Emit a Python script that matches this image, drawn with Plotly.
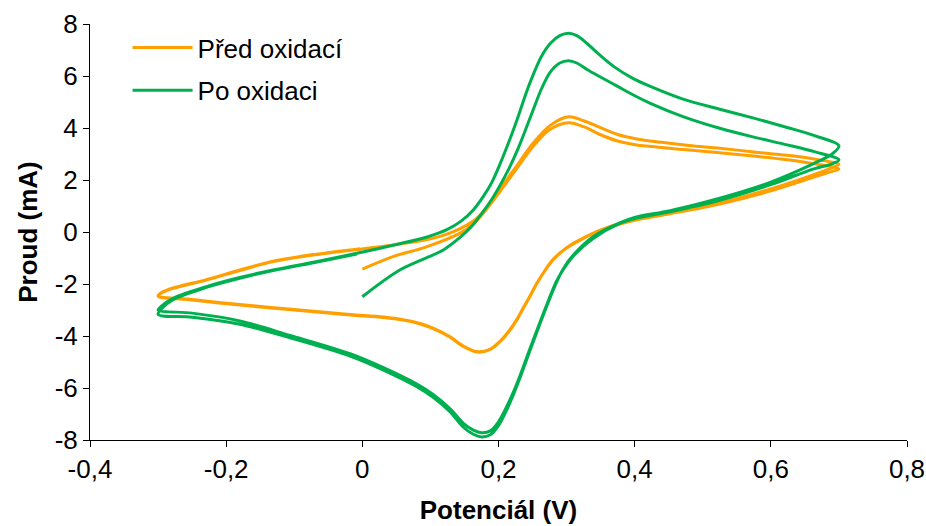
import plotly.graph_objects as go

# ---- data ----
# Před oxidací: forward 0 -> 0.7, reverse -> -0.3, forward -> 0.7, reverse -> -0.3, forward -> 0
pred_x = [0.000, 0.045, 0.094, 0.143, 0.163, 0.180, 0.202, 0.227, 0.251, 0.276, 0.303, 0.325, 0.349, 0.375, 0.403, 0.440, 0.480, 0.525, 0.575, 0.624, 0.665, 0.700,
          0.690, 0.662, 0.600, 0.525, 0.452, 0.400, 0.354, 0.320, 0.300, 0.280, 0.268, 0.256, 0.246, 0.236, 0.227, 0.217, 0.207, 0.188, 0.168, 0.148, 0.129, 0.104, 0.085, 0.060, 0.031, -0.018, -0.100, -0.180, -0.250, -0.300,
          -0.295, -0.278, -0.229, -0.180, -0.131, -0.070, -0.003, 0.050, 0.094, 0.120, 0.143, 0.163, 0.172, 0.180, 0.202, 0.227, 0.251, 0.276, 0.303, 0.325, 0.349, 0.375, 0.403, 0.440, 0.480, 0.525, 0.575, 0.624, 0.665, 0.700,
          0.690, 0.662, 0.600, 0.525, 0.452, 0.400, 0.354, 0.320, 0.300, 0.280, 0.268, 0.256, 0.246, 0.236, 0.227, 0.217, 0.207, 0.188, 0.168, 0.148, 0.129, 0.104, 0.085, 0.060, 0.031, -0.018, -0.100, -0.180, -0.250, -0.300,
          -0.295, -0.278, -0.229, -0.180, -0.131, -0.070, -0.003]
pred_y = [-1.43, -0.95, -0.57, -0.05, 0.30, 0.80, 1.55, 2.45, 3.30, 3.95, 4.20, 4.05, 3.75, 3.50, 3.35, 3.25, 3.15, 3.05, 2.92, 2.78, 2.62, 2.42,
          2.33, 2.10, 1.58, 1.08, 0.70, 0.45, 0.10, -0.31, -0.62, -1.08, -1.50, -2.00, -2.49, -2.95, -3.38, -3.77, -4.09, -4.52, -4.62, -4.40, -4.05, -3.72, -3.54, -3.39, -3.29, -3.19, -3.00, -2.81, -2.62, -2.47,
          -2.35, -2.17, -1.85, -1.48, -1.14, -0.88, -0.66, -0.48, -0.30, -0.12, 0.12, 0.42, 0.62, 0.86, 1.65, 2.55, 3.42, 4.10, 4.43, 4.28, 4.02, 3.75, 3.58, 3.45, 3.33, 3.22, 3.08, 2.95, 2.80, 2.60,
          2.48, 2.20, 1.66, 1.12, 0.73, 0.47, 0.12, -0.29, -0.60, -1.06, -1.48, -1.98, -2.47, -2.93, -3.36, -3.75, -4.07, -4.50, -4.60, -4.38, -4.03, -3.70, -3.52, -3.37, -3.27, -3.17, -2.98, -2.79, -2.60, -2.45,
          -2.33, -2.15, -1.83, -1.46, -1.12, -0.86, -0.64]

# Po oxidaci
po_x = [0.000, 0.055, 0.119, 0.143, 0.160, 0.178, 0.190, 0.202, 0.215, 0.227, 0.240, 0.251, 0.263, 0.276, 0.290, 0.303, 0.315, 0.330, 0.349, 0.375, 0.398, 0.423, 0.470, 0.525, 0.575, 0.624, 0.665, 0.700,
        0.690, 0.662, 0.600, 0.525, 0.452, 0.400, 0.378, 0.339, 0.310, 0.295, 0.285, 0.266, 0.246, 0.232, 0.222, 0.212, 0.200, 0.188, 0.175, 0.163, 0.148, 0.129, 0.104, 0.080, 0.031, -0.018, -0.106, -0.180, -0.250, -0.300,
        -0.295, -0.278, -0.229, -0.180, -0.131, -0.070, -0.008, 0.050, 0.094, 0.125, 0.145, 0.163, 0.178, 0.190, 0.202, 0.215, 0.227, 0.240, 0.251, 0.263, 0.276, 0.290, 0.303, 0.315, 0.330, 0.349, 0.370, 0.398, 0.423, 0.470, 0.525, 0.575, 0.624, 0.665, 0.700,
        0.690, 0.662, 0.600, 0.525, 0.452, 0.400, 0.378, 0.339, 0.310, 0.295, 0.285, 0.266, 0.246, 0.232, 0.222, 0.212, 0.200, 0.188, 0.175, 0.163, 0.148, 0.129, 0.104, 0.080, 0.031, -0.018, -0.106, -0.180, -0.250, -0.300,
        -0.295, -0.278, -0.229, -0.180, -0.131, -0.070, -0.008]
po_y = [-2.49, -1.46, -0.69, -0.22, 0.20, 0.80, 1.25, 1.78, 2.42, 3.10, 3.95, 4.70, 5.50, 6.15, 6.50, 6.59, 6.50, 6.25, 5.97, 5.60, 5.27, 4.95, 4.45, 3.99, 3.65, 3.35, 3.08, 2.78,
        2.62, 2.42, 1.82, 1.22, 0.78, 0.52, 0.33, -0.25, -0.92, -1.45, -1.90, -3.13, -4.50, -5.50, -6.15, -6.72, -7.30, -7.65, -7.72, -7.62, -7.35, -6.80, -6.25, -5.85, -5.22, -4.68, -3.98, -3.42, -3.12, -3.00,
        -2.85, -2.55, -2.10, -1.75, -1.46, -1.15, -0.82, -0.48, -0.20, 0.10, 0.42, 0.85, 1.38, 1.90, 2.60, 3.45, 4.30, 5.30, 6.05, 6.75, 7.25, 7.55, 7.64, 7.55, 7.25, 6.80, 6.35, 5.90, 5.60, 5.12, 4.72, 4.38, 4.02, 3.70, 3.32,
        3.00, 2.62, 1.92, 1.30, 0.82, 0.56, 0.35, -0.18, -0.88, -1.42, -1.95, -3.18, -4.58, -5.58, -6.25, -6.85, -7.45, -7.80, -7.88, -7.78, -7.50, -6.92, -6.36, -5.95, -5.31, -4.77, -4.07, -3.55, -3.28, -3.17,
        -2.95, -2.60, -2.13, -1.78, -1.48, -1.17, -0.85]

series_names = ["Před oxidací", "Po oxidaci"]
series_colors = ["#FFA000", "#00B050"]

x_tickvals = [-0.4, -0.2, 0, 0.2, 0.4, 0.6, 0.8]
x_ticktext = ["-0,4", "-0,2", "0", "0,2", "0,4", "0,6", "0,8"]
y_tickvals = [-8, -6, -4, -2, 0, 2, 4, 6, 8]
y_ticktext = ["-8", "-6", "-4", "-2", "0", "2", "4", "6", "8"]

FONT = "Liberation Sans, Arial, sans-serif"

fig = go.Figure()
for i, (xs, ys) in enumerate([(pred_x, pred_y), (po_x, po_y)]):
    fig.add_trace(go.Scatter(
        x=xs, y=ys, mode="lines", name=series_names[i],
        legendgroup=f"g{i}",
        line=dict(color=series_colors[i], width=3, shape="spline", smoothing=0.9),
    ))

fig.update_layout(
    width=926, height=526,
    margin=dict(l=90, r=19, t=24, b=86),
    paper_bgcolor="white", plot_bgcolor="white",
    font=dict(family=FONT, size=26, color="black"),
    showlegend=True,
    legend=dict(x=0.046, y=1.0, xanchor="left", yanchor="top",
                bgcolor="rgba(0,0,0,0)", font=dict(size=26),
                itemwidth=60,
                traceorder="grouped", tracegroupgap=6),
    xaxis=dict(range=[-0.4, 0.8], tickvals=x_tickvals, ticktext=x_ticktext,
               automargin=False,
               showgrid=False, zeroline=False, showline=True, linecolor="black", linewidth=1,
               ticks="outside", ticklen=6, tickcolor="black",
               title=dict(text="<b>Potenciál (V)</b>", font=dict(size=26), standoff=17)),
    yaxis=dict(range=[-8, 8], tickvals=y_tickvals, ticktext=y_ticktext,
               automargin=False,
               showgrid=False, zeroline=False, showline=True, linecolor="black", linewidth=1,
               ticks="outside", ticklen=6, tickcolor="black",
               title=dict(text="<b>Proud (mA)</b>", font=dict(size=26), standoff=9)),
)

fig.write_html("out.html")
